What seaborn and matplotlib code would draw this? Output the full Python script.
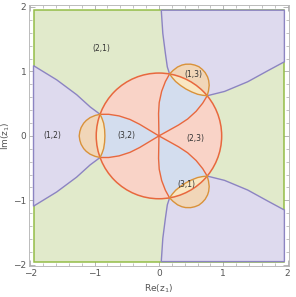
import matplotlib
matplotlib.use("Agg")
import matplotlib.pyplot as plt
import matplotlib.patches as mpatches
from matplotlib.ticker import MultipleLocator
import seaborn as sns

# ---- data (x = Re z1, y = Im z1) ----
frame_x = [-1.95, 1.95, 1.95, -1.95]
frame_y = [-1.95, -1.95, 1.95, 1.95]

# lavender region (1,2) on the left
lav_left_x = [-1.95, -1.59, -1.28, -1.07, -0.915, -0.915, -1.07, -1.28, -1.59, -1.95]
lav_left_y = [1.09, 0.87, 0.64, 0.45, 0.335, -0.335, -0.45, -0.64, -0.87, -1.09]

# lavender region, upper right
lav_top_x = [0.036, 1.95, 1.95, 1.69, 1.38, 1.02, 0.75, 0.165, 0.13, 0.10, 0.06, 0.036]
lav_top_y = [1.95, 1.95, 1.15, 1.01, 0.84, 0.69, 0.623, 0.961, 1.07, 1.28, 1.59, 1.95]

# lavender region, lower right
lav_bot_x = [0.036, 1.95, 1.95, 1.69, 1.38, 1.02, 0.75, 0.165, 0.13, 0.10, 0.06, 0.036]
lav_bot_y = [-1.95, -1.95, -1.15, -1.01, -0.84, -0.69, -0.623, -0.961, -1.07, -1.28, -1.59, -1.95]

# big circle
big_center = (0.0, 0.0)
big_radius = 0.975

# blue teardrops inside the big circle
blue_left_x = [-0.915, -0.78, -0.62, -0.45, -0.30, -0.15, 0.0, -0.15, -0.30, -0.45, -0.62, -0.78, -0.915]
blue_left_y = [0.335, 0.335, 0.31, 0.255, 0.18, 0.09, 0.0, -0.09, -0.18, -0.255, -0.31, -0.335, -0.335]
blue_up_x = [0.165, 0.10, 0.042, 0.004, -0.006, -0.003, 0.0, 0.153, 0.306, 0.446, 0.578, 0.68, 0.75]
blue_up_y = [0.961, 0.843, 0.692, 0.517, 0.35, 0.175, 0.0, 0.085, 0.17, 0.262, 0.382, 0.508, 0.623]
blue_dn_x = [0.165, 0.10, 0.042, 0.004, -0.006, -0.003, 0.0, 0.153, 0.306, 0.446, 0.578, 0.68, 0.75]
blue_dn_y = [-0.961, -0.843, -0.692, -0.517, -0.35, -0.175, 0.0, -0.085, -0.17, -0.262, -0.382, -0.508, -0.623]

# small lobes at the three meeting points
lobe_left_x = [-0.915, -0.99, -1.07, -1.13, -1.17, -1.21, -1.23, -1.24, -1.23, -1.21, -1.17, -1.13, -1.07, -0.99,
               -0.915, -0.885, -0.86, -0.845, -0.84, -0.845, -0.86, -0.885, -0.915]
lobe_left_y = [0.335, 0.318, 0.284, 0.24, 0.197, 0.13, 0.067, 0.0, -0.067, -0.13, -0.197, -0.24, -0.284, -0.318,
               -0.335, -0.27, -0.197, -0.1, 0.0, 0.1, 0.197, 0.27, 0.335]
lobe_up_x = [0.75, 0.77, 0.781, 0.773, 0.756, 0.718, 0.673, 0.62, 0.557, 0.492, 0.414, 0.357, 0.289, 0.22,
             0.165, 0.209, 0.259, 0.336, 0.42, 0.509, 0.601, 0.676, 0.75]
lobe_up_y = [0.623, 0.698, 0.785, 0.859, 0.915, 0.983, 1.032, 1.074, 1.099, 1.113, 1.112, 1.099, 1.069, 1.016,
             0.961, 0.901, 0.844, 0.782, 0.727, 0.682, 0.646, 0.631, 0.623]
lobe_dn_x = [0.75, 0.77, 0.781, 0.773, 0.756, 0.718, 0.673, 0.62, 0.557, 0.492, 0.414, 0.357, 0.289, 0.22,
             0.165, 0.209, 0.259, 0.336, 0.42, 0.509, 0.601, 0.676, 0.75]
lobe_dn_y = [-0.623, -0.698, -0.785, -0.859, -0.915, -0.983, -1.032, -1.074, -1.099, -1.113, -1.112, -1.099, -1.069, -1.016,
             -0.961, -0.901, -0.844, -0.782, -0.727, -0.682, -0.646, -0.631, -0.623]

# region labels
label_text = ["(2,1)", "(1,2)", "(3,2)", "(2,3)", "(1,3)", "(3,1)"]
label_x = [-0.89, -1.66, -0.51, 0.57, 0.53, 0.43]
label_y = [1.35, 0.0, 0.0, -0.04, 0.945, -0.76]

# colours
green, green_edge = "#e1eacb", "#94bd48"
lav, lav_edge = "#dedaee", "#8c84c2"
pink, red = "#f9d3c7", "#e8683e"
blue = "#d3ddee"
tan, orange = "#f1d6b8", "#d9923a"
yellow = "#f9e7c2"

sns.set_theme(style="ticks")
plt.rcParams["font.family"] = ["DejaVu Sans"]

fig = plt.figure(figsize=(2.96, 2.97), dpi=100)
ax = fig.add_axes([0.098, 0.104, 0.878, 0.879])

ax.fill(frame_x, frame_y, facecolor=green, edgecolor=green_edge, lw=1.1, zorder=1)
for xs, ys in [(lav_left_x, lav_left_y), (lav_top_x, lav_top_y), (lav_bot_x, lav_bot_y)]:
    ax.fill(xs, ys, facecolor=lav, edgecolor=lav_edge, lw=1.0, zorder=2)

ax.add_patch(mpatches.Circle(big_center, big_radius, facecolor=pink, edgecolor="none", zorder=3))
for xs, ys in [(blue_left_x, blue_left_y), (blue_up_x, blue_up_y), (blue_dn_x, blue_dn_y)]:
    ax.fill(xs, ys, facecolor=blue, edgecolor="none", zorder=4)

clip = mpatches.Circle(big_center, big_radius, transform=ax.transData)
lobes = [(lobe_left_x, lobe_left_y), (lobe_up_x, lobe_up_y), (lobe_dn_x, lobe_dn_y)]
for xs, ys in lobes:
    ax.fill(xs, ys, facecolor=tan, edgecolor="none", zorder=5)
    for p in ax.fill(xs, ys, facecolor=yellow, edgecolor="none", zorder=6):
        p.set_clip_path(clip)

# red curves inside the big circle
for xs, ys in [(blue_left_x, blue_left_y), (blue_up_x, blue_up_y), (blue_dn_x, blue_dn_y)]:
    sns.lineplot(x=xs, y=ys, sort=False, estimator=None, color=red, lw=1.0, ax=ax, zorder=7)
ax.add_patch(mpatches.Circle(big_center, big_radius, facecolor="none", edgecolor=red, lw=1.1, zorder=8))
for xs, ys in lobes:
    sns.lineplot(x=xs, y=ys, sort=False, estimator=None, color=orange, lw=1.0, ax=ax, zorder=9)

for t, x, y in zip(label_text, label_x, label_y):
    ax.text(x, y, t, fontsize=5.5, color="#333333", ha="center", va="center", zorder=10)

ax.set_xlim(-2.02, 2.02)
ax.set_ylim(-2.02, 2.03)
ax.set_aspect("auto")
ax.xaxis.set_major_locator(MultipleLocator(1))
ax.yaxis.set_major_locator(MultipleLocator(1))
ax.xaxis.set_minor_locator(MultipleLocator(0.2))
ax.yaxis.set_minor_locator(MultipleLocator(0.2))
ax.tick_params(which="both", direction="in", top=True, right=True, color="#aaaaaa",
               labelsize=6.5, labelcolor="#555555", pad=2)
ax.tick_params(which="major", length=4, width=0.6)
ax.tick_params(which="minor", length=2, width=0.5)
for s in ax.spines.values():
    s.set_color("#bbbbbb")
    s.set_linewidth(0.7)
ax.set_xlabel("Re($\\mathregular{z_1}$)", fontsize=6.5, color="#555555", labelpad=3)
ax.set_ylabel("Im($\\mathregular{z_1}$)", fontsize=6.5, color="#555555", labelpad=1)
ax.grid(False)

fig.savefig("out.png", dpi=100)
